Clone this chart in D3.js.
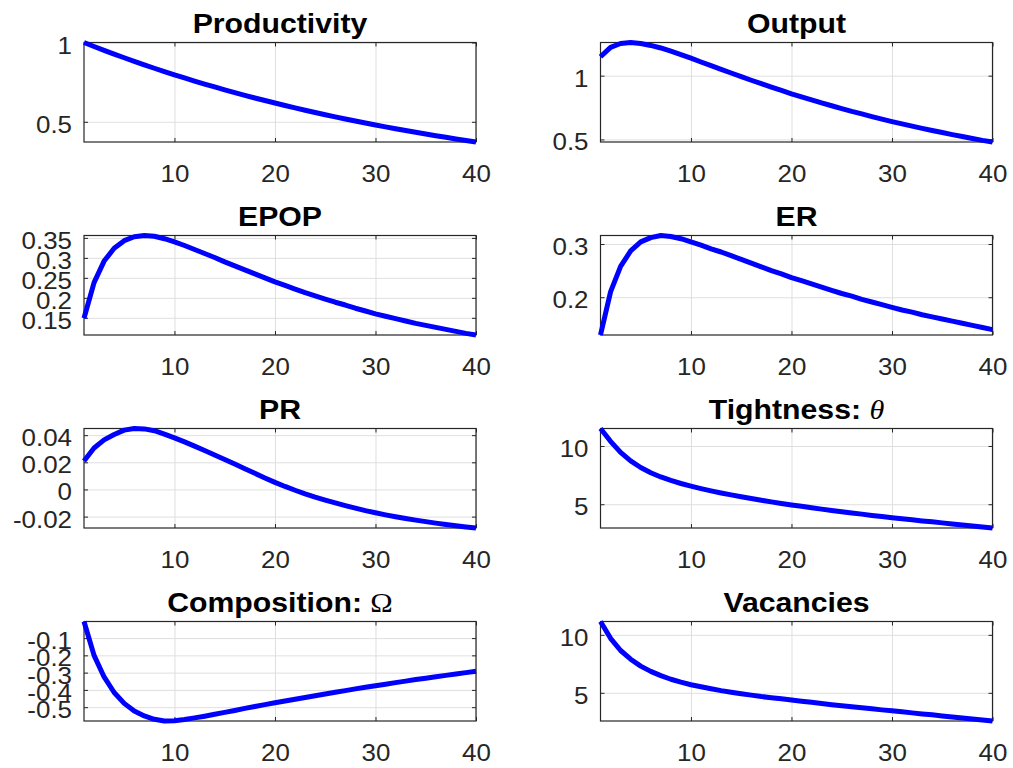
<!DOCTYPE html>
<html><head><meta charset="utf-8">
<script src="https://cdn.jsdelivr.net/npm/d3@7"></script>
<style>body{margin:0;background:#fff}svg{display:block}</style>
</head><body>
<svg id="chart" width="1013" height="768"></svg>
<script>
const periods = [1,2,3,4,5,6,7,8,9,10,11,12,13,14,15,16,17,18,19,20,21,22,23,24,25,26,27,28,29,30,31,32,33,34,35,36,37,38,39,40];

const productivity = [1,0.975,0.9506,0.9269,0.9037,0.8811,0.8591,0.8376,0.8167,0.7963,
  0.7763,0.7569,0.7380,0.7196,0.7016,0.6840,0.6669,0.6503,0.6340,0.6182,
  0.6027,0.5877,0.5730,0.5586,0.5447,0.5311,0.5178,0.5048,0.4922,0.4799,
  0.4679,0.4562,0.4448,0.4337,0.4229,0.4123,0.4020,0.3919,0.3821,0.3726];

const output = [1.148,1.222,1.252,1.260,1.252,1.237,1.217,1.192,1.165,1.137,
  1.107,1.078,1.049,1.021,0.992,0.964,0.937,0.910,0.884,0.858,
  0.834,0.810,0.786,0.764,0.742,0.720,0.700,0.679,0.659,0.640,
  0.622,0.604,0.587,0.570,0.554,0.538,0.523,0.508,0.493,0.480];

const epop = [0.149,0.238,0.292,0.324,0.343,0.353,0.356,0.354,0.348,0.340,
  0.331,0.321,0.311,0.301,0.290,0.280,0.270,0.260,0.250,0.240,
  0.231,0.222,0.213,0.205,0.197,0.189,0.182,0.174,0.167,0.160,
  0.154,0.148,0.142,0.136,0.131,0.126,0.121,0.116,0.111,0.107];

const er = [0.129,0.210,0.258,0.287,0.304,0.312,0.316,0.314,0.310,0.304,
  0.298,0.291,0.285,0.278,0.271,0.264,0.257,0.250,0.244,0.237,
  0.231,0.225,0.219,0.213,0.207,0.202,0.196,0.191,0.186,0.181,
  0.176,0.172,0.167,0.163,0.159,0.155,0.151,0.147,0.143,0.139];

const pr = [0.021,0.0305,0.0365,0.0405,0.0437,0.0449,0.0446,0.0433,0.0408,0.0380,
  0.0350,0.0319,0.0287,0.0254,0.0221,0.0187,0.0153,0.0119,0.0085,0.0052,
  0.0022,-0.0006,-0.0032,-0.0056,-0.0078,-0.0099,-0.0119,-0.0138,-0.0156,-0.0172,
  -0.0187,-0.0201,-0.0214,-0.0226,-0.0237,-0.0248,-0.0258,-0.0267,-0.0276,-0.0284];

const tightness = [11.50,10.40,9.45,8.72,8.15,7.70,7.34,7.04,6.78,6.55,
  6.34,6.15,5.97,5.80,5.64,5.49,5.34,5.20,5.07,4.94,
  4.82,4.70,4.58,4.47,4.36,4.25,4.15,4.04,3.94,3.84,
  3.75,3.66,3.57,3.49,3.40,3.31,3.22,3.13,3.05,2.96];

const composition = [-0.004,-0.200,-0.325,-0.415,-0.478,-0.522,-0.551,-0.570,-0.580,-0.578,
  -0.571,-0.562,-0.552,-0.541,-0.530,-0.519,-0.507,-0.496,-0.485,-0.474,
  -0.464,-0.454,-0.444,-0.434,-0.424,-0.414,-0.404,-0.394,-0.385,-0.376,
  -0.367,-0.358,-0.349,-0.340,-0.332,-0.324,-0.316,-0.308,-0.300,-0.292];

const vacancies = [11.15,9.70,8.65,7.90,7.30,6.85,6.48,6.17,5.92,5.70,
  5.52,5.35,5.19,5.05,4.92,4.80,4.68,4.58,4.48,4.38,
  4.28,4.18,4.08,3.98,3.89,3.80,3.71,3.62,3.53,3.45,
  3.36,3.27,3.18,3.10,3.01,2.92,2.83,2.75,2.66,2.57];

const xTicks = [10,20,30,40];
const ticksProductivity = [0.5,1];
const ticksOutput = [0.5,1];
const ticksEpop = [0.15,0.2,0.25,0.3,0.35];
const ticksEr = [0.2,0.3];
const ticksPr = [-0.02,0,0.02,0.04];
const ticksTightness = [5,10];
const ticksComposition = [-0.5,-0.4,-0.3,-0.2,-0.1];
const ticksVacancies = [5,10];

const titles = ["Productivity","Output","EPOP","ER","PR","Tightness: ","Composition: ","Vacancies"];
const titleSymbols = ["","","","","","θ","Ω",""];

const panels = [
  {title:titles[0], sym:titleSymbols[0], values:productivity, ticks:ticksProductivity},
  {title:titles[1], sym:titleSymbols[1], values:output, ticks:ticksOutput},
  {title:titles[2], sym:titleSymbols[2], values:epop, ticks:ticksEpop},
  {title:titles[3], sym:titleSymbols[3], values:er, ticks:ticksEr},
  {title:titles[4], sym:titleSymbols[4], values:pr, ticks:ticksPr},
  {title:titles[5], sym:titleSymbols[5], values:tightness, ticks:ticksTightness, italic:true},
  {title:titles[6], sym:titleSymbols[6], values:composition, ticks:ticksComposition},
  {title:titles[7], sym:titleSymbols[7], values:vacancies, ticks:ticksVacancies}
];

// layout
const colLeft = [84, 600.5];
const plotW = 392;
const rowTop = [42.5, 235.5, 428.5, 621.5];
const plotH = 99.5;
const sx = 1.08; // horizontal text stretch
const tickFont = 24, titleFont = 27;
const fontFam = "'Liberation Sans', Arial, Helvetica, sans-serif";
const textCol = "#262626";

const svg = d3.select("#chart");
const fmt = v => String(v);

panels.forEach((p, i) => {
  const left = colLeft[i % 2], top = rowTop[Math.floor(i / 2)];
  const g = svg.append("g").attr("transform", `translate(${left},${top})`);
  const x = d3.scaleLinear().domain(d3.extent(periods)).range([0, plotW]);
  const y = d3.scaleLinear().domain(d3.extent(p.values)).range([plotH, 0]);

  // grid
  const grid = g.append("g").attr("class", "grid");
  grid.append("g").attr("transform", `translate(0,${plotH})`)
    .call(d3.axisBottom(x).tickValues(xTicks).tickSize(-plotH).tickFormat(""))
    .call(s => s.select(".domain").remove())
    .selectAll("line").attr("stroke", "#dfdfdf").attr("stroke-width", 1);
  grid.append("g")
    .call(d3.axisLeft(y).tickValues(p.ticks).tickSize(-plotW).tickFormat(""))
    .call(s => s.select(".domain").remove())
    .selectAll("line").attr("stroke", "#dfdfdf").attr("stroke-width", 1);

  // tick marks on all four sides
  const tl = 4;
  const ax = g.append("g");
  ax.append("g").attr("transform", `translate(0,${plotH})`)
    .call(d3.axisBottom(x).tickValues(xTicks).tickSize(-tl).tickFormat(fmt).tickPadding(0))
    .call(s => s.select(".domain").remove())
    .call(s => s.selectAll("line").attr("stroke", textCol))
    .call(s => s.selectAll("text")
      .attr("y", 0).attr("dy", null)
      .attr("transform", `translate(0,40) scale(${sx},1)`)
      .attr("fill", textCol).attr("font-size", tickFont).attr("font-family", fontFam));
  ax.append("g")
    .call(d3.axisTop(x).tickValues(xTicks).tickSize(-tl).tickFormat(""))
    .call(s => s.select(".domain").remove())
    .selectAll("line").attr("stroke", textCol);
  ax.append("g")
    .call(d3.axisLeft(y).tickValues(p.ticks).tickSize(-tl).tickFormat(fmt).tickPadding(0))
    .call(s => s.select(".domain").remove())
    .call(s => s.selectAll("line").attr("stroke", textCol))
    .call(s => s.selectAll("text")
      .attr("x", 0).attr("dy", null).attr("y", 0)
      .attr("text-anchor", "end")
      .attr("transform", `translate(-12,10.5) scale(${sx},1)`)
      .attr("fill", textCol).attr("font-size", tickFont).attr("font-family", fontFam));
  ax.append("g").attr("transform", `translate(${plotW},0)`)
    .call(d3.axisRight(y).tickValues(p.ticks).tickSize(-tl).tickFormat(""))
    .call(s => s.select(".domain").remove())
    .selectAll("line").attr("stroke", textCol);

  // box
  g.append("rect").attr("x", 0).attr("y", 0).attr("width", plotW).attr("height", plotH)
    .attr("fill", "none").attr("stroke", textCol).attr("stroke-width", 1.2);

  // line
  const line = d3.line().x((d, k) => x(periods[k])).y(d => y(d));
  g.append("path").datum(p.values).attr("d", line)
    .attr("fill", "none").attr("stroke", "#0000ff").attr("stroke-width", 5)
    .attr("stroke-linejoin", "round");

  // title
  const t = g.append("text")
    .attr("transform", `translate(${plotW / 2},-10) scale(1.12,1)`)
    .attr("text-anchor", "middle").attr("font-size", titleFont)
    .attr("font-family", fontFam).attr("font-weight", "bold").attr("fill", "#000");
  t.append("tspan").text(p.title);
  if (p.sym) {
    t.append("tspan").text(p.sym)
      .attr("font-family", "'Liberation Serif', 'Times New Roman', serif")
      .attr("font-weight", "normal")
      .attr("font-style", p.italic ? "italic" : "normal");
  }
});
</script>
</body></html>
